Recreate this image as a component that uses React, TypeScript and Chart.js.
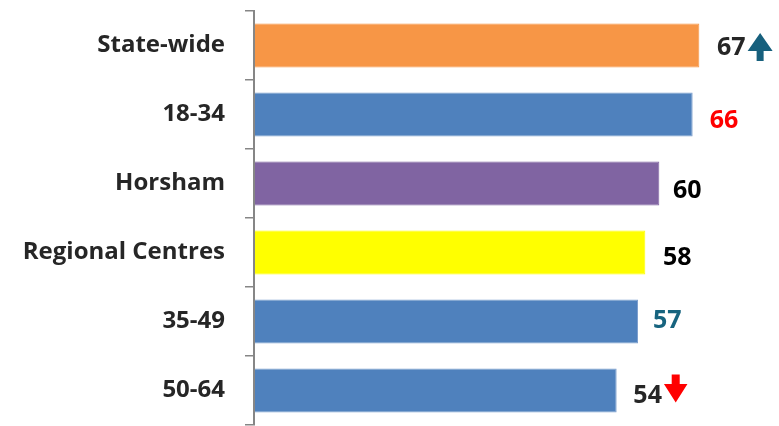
import React, { useEffect, useRef } from "react";
import { Chart, registerables } from "chart.js";

Chart.register(...registerables);

const categories = ["State-wide", "18-34", "Horsham", "Regional Centres", "35-49", "50-64"];
const scores = [66.8, 65.8, 60.8, 58.7, 57.6, 54.4];
const valueLabels = ["67", "66", "60", "58", "57", "54"];
const trendArrows = ["up", "", "", "", "", "down"];

const barColors = ["#F79646", "#4F81BD", "#8064A2", "#FFFF00", "#4F81BD", "#4F81BD"];
const labelColors = ["#262626", "#FF0000", "#000000", "#000000", "#17647F", "#262626"];
const arrowColors = ["#17607D", "", "", "", "", "#FF0000"];

const FONT = "'Open Sans', 'DejaVu Sans', sans-serif";

const labelPlugin = {
  id: "valueLabels",
  afterDatasetsDraw(chart: any, _args: any, opts: any) {
    const ctx = chart.ctx;
    const meta = chart.getDatasetMeta(0);
    const dx: number[] = opts.dx;
    const dy: number[] = opts.dy;
    ctx.save();
    ctx.font = `bold 25px ${FONT}`;
    ctx.textAlign = "left";
    ctx.textBaseline = "alphabetic";
    meta.data.forEach((el: any, i: number) => {
      const x = el.x + dx[i];
      const base = el.y + dy[i];
      const txt = valueLabels[i];
      ctx.fillStyle = labelColors[i];
      ctx.fillText(txt, x, base);
      const w = ctx.measureText(txt).width;
      const ax = x + w + 2;
      if (trendArrows[i] === "up") {
        const top = base - 22, bottom = base + 6, aw = 25, hh = 18, sw = 7;
        const cx = ax + aw / 2;
        ctx.fillStyle = arrowColors[i];
        ctx.beginPath();
        ctx.moveTo(cx, top);
        ctx.lineTo(ax + aw, top + hh);
        ctx.lineTo(cx + sw / 2, top + hh);
        ctx.lineTo(cx + sw / 2, bottom);
        ctx.lineTo(cx - sw / 2, bottom);
        ctx.lineTo(cx - sw / 2, top + hh);
        ctx.lineTo(ax, top + hh);
        ctx.closePath();
        ctx.fill();
      } else if (trendArrows[i] === "down") {
        const top = base - 28, bottom = base, aw = 23.5, hh = 18.5, sw = 8;
        const cx = ax + aw / 2;
        ctx.fillStyle = arrowColors[i];
        ctx.beginPath();
        ctx.moveTo(cx - sw / 2, top);
        ctx.lineTo(cx + sw / 2, top);
        ctx.lineTo(cx + sw / 2, bottom - hh);
        ctx.lineTo(ax + aw, bottom - hh);
        ctx.lineTo(cx, bottom);
        ctx.lineTo(ax, bottom - hh);
        ctx.lineTo(cx - sw / 2, bottom - hh);
        ctx.closePath();
        ctx.fill();
      }
    });
    ctx.restore();
  },
};

export default function App() {
  const ref = useRef<HTMLCanvasElement | null>(null);
  useEffect(() => {
    if (!ref.current) return;
    const chart = new Chart(ref.current, {
      type: "bar",
      data: {
        labels: categories,
        datasets: [
          {
            data: scores,
            backgroundColor: barColors,
            borderColor: barColors.map((c) => (c === "#4F81BD" ? "#7E9FCE" : c)),
            borderWidth: 1,
            categoryPercentage: 1,
            barPercentage: 0.64,
          },
        ],
      },
      options: {
        indexAxis: "y",
        animation: false,
        responsive: false,
        devicePixelRatio: 1,
        layout: { padding: { top: 11, bottom: 1, right: 5, left: 0 } },
        plugins: {
          legend: { display: false },
          tooltip: { enabled: false },
          valueLabels: {
            dx: [17.7, 17, 13.7, 17.7, 15, 16.7],
            dy: [9.5, 13.5, 14.5, 12.5, 6.5, 12],
          },
        } as any,
        scales: {
          x: { display: false, min: 0, max: 78 },
          y: {
            grid: {
              display: true,
              drawOnChartArea: false,
              drawTicks: true,
              tickLength: 9,
              color: "#868686",
              lineWidth: 1.5,
              offset: true,
            },
            border: { display: true, color: "#868686", width: 2, z: 1 },
            ticks: {
              color: "#262626",
              font: { family: FONT, weight: "bold", size: 24 },
              padding: 20,
              autoSkip: false,
            },
            afterFit: (s: any) => {
              s.width = 254;
              s.paddingTop = 0;
              s.paddingBottom = 0;
            },
          },
        },
      } as any,
      plugins: [labelPlugin],
    });
    return () => chart.destroy();
  }, []);
  return (
    <div style={{ position: "fixed", left: 0, top: 0, width: 779, height: 426, background: "#fff" }}>
      <canvas ref={ref} width={779} height={426} />
    </div>
  );
}
